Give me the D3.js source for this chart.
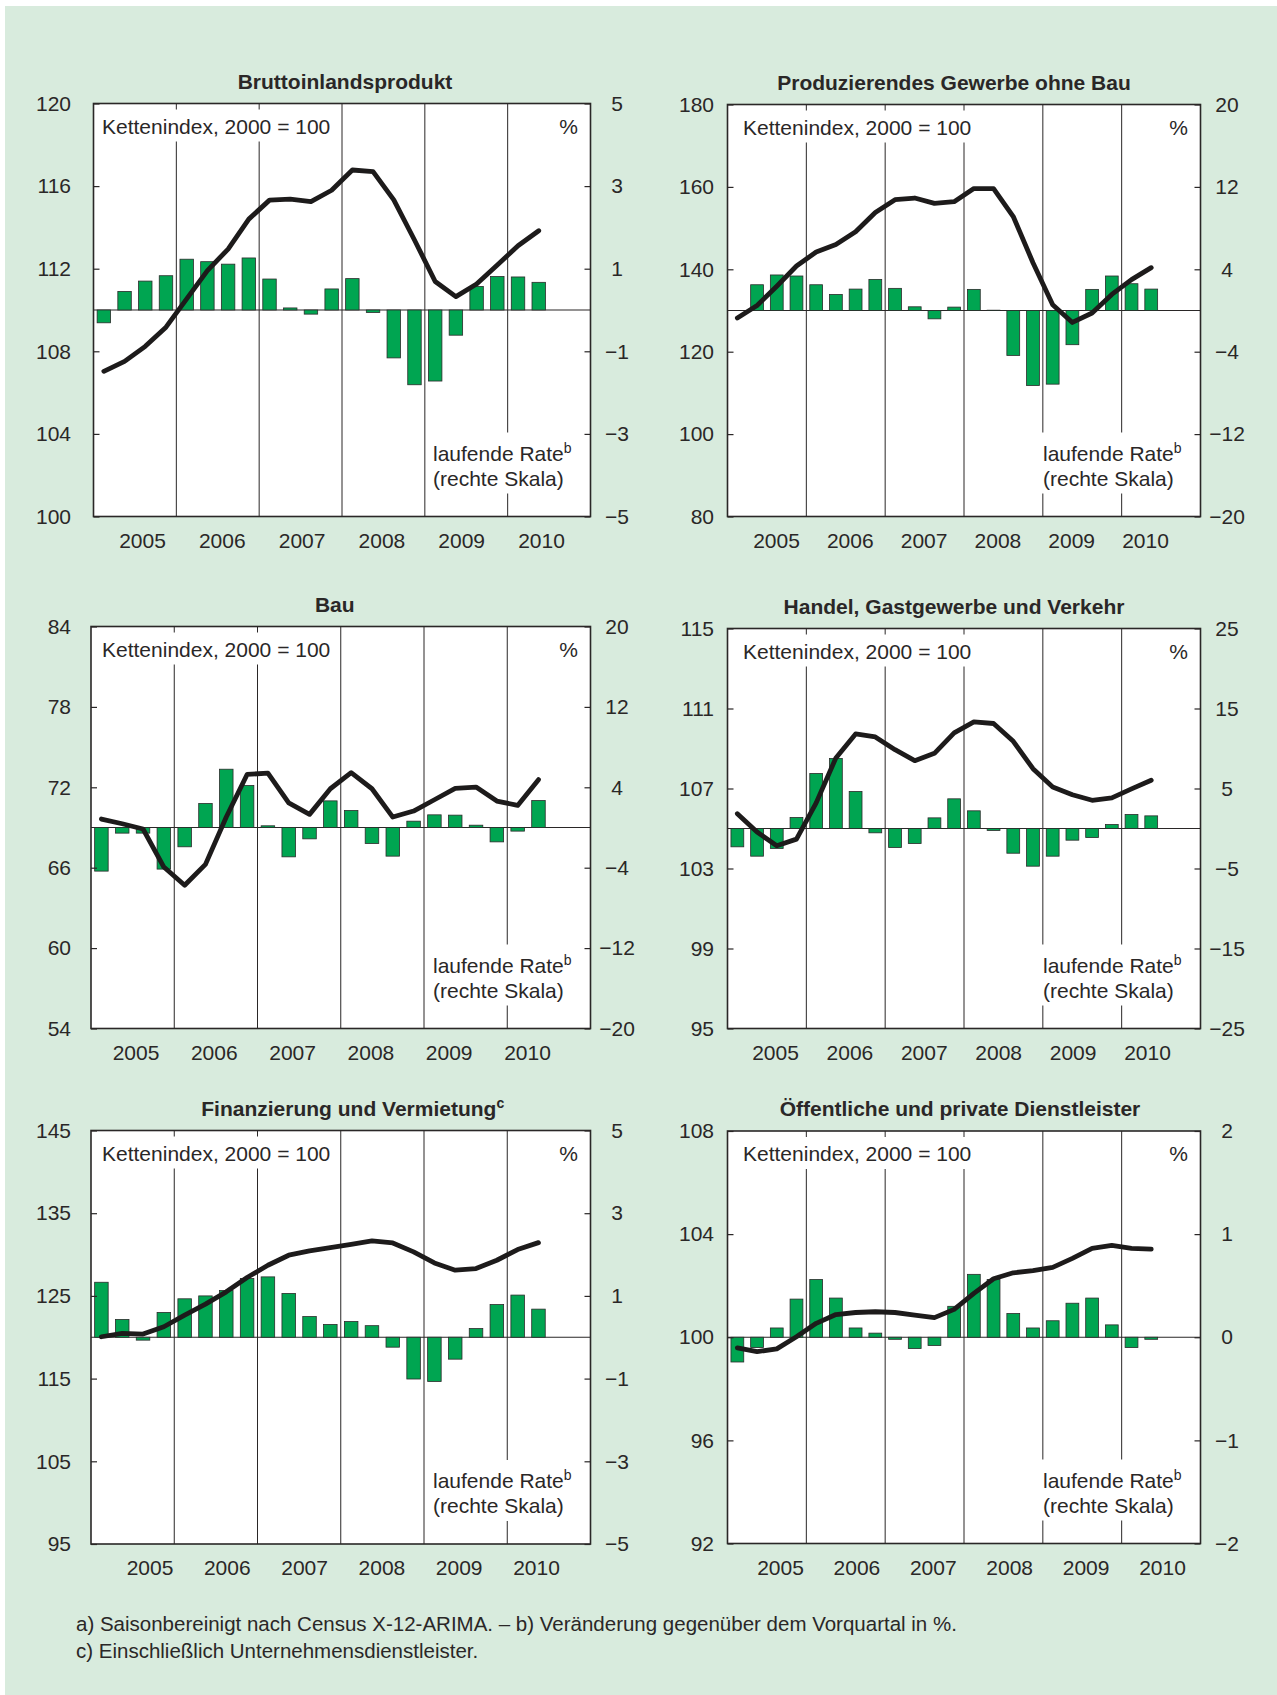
<!DOCTYPE html>
<html>
<head>
<meta charset="utf-8">
<script src="https://cdn.jsdelivr.net/npm/d3@7"></script>
<style>
  body { margin: 0; background: #fff; }
  svg text { font-family: "Liberation Sans", Arial, sans-serif; fill: #2a2727; }
</style>
</head>
<body>
<svg id="chart" width="1277" height="1695"></svg>
<script>
// Kategorien
const years = ["2005", "2006", "2007", "2008", "2009", "2010"];
const quarters = years.flatMap(y => ["Q1", "Q2", "Q3", "Q4"].map(q => y + q));

const titles = ["Bruttoinlandsprodukt", "Produzierendes Gewerbe ohne Bau", "Bau",
  "Handel, Gastgewerbe und Verkehr", "Finanzierung und Vermietung", "Öffentliche und private Dienstleister"];
const titleSup = ["", "", "", "", "c", ""];

// Achsen (links: Kettenindex, rechts: laufende Rate in %)
const leftTicks = [
  [100, 104, 108, 112, 116, 120],
  [80, 100, 120, 140, 160, 180],
  [54, 60, 66, 72, 78, 84],
  [95, 99, 103, 107, 111, 115],
  [95, 105, 115, 125, 135, 145],
  [92, 96, 100, 104, 108]
];
const rightTicks = [
  [-5, -3, -1, 1, 3, 5],
  [-20, -12, -4, 4, 12, 20],
  [-20, -12, -4, 4, 12, 20],
  [-25, -15, -5, 5, 15, 25],
  [-5, -3, -1, 1, 3, 5],
  [-2, -1, 0, 1, 2]
];

// Reihen, 2005 Q1 bis 2010 Q2
const bipIndex = [107.03, 107.51, 108.24, 109.17, 110.54, 111.91, 112.95, 114.40, 115.32, 115.37, 115.25, 115.80, 116.78, 116.70, 115.33, 113.39, 111.38, 110.65, 111.26, 112.18, 113.11, 113.84];
const bipRate = [-0.31, 0.45, 0.70, 0.83, 1.23, 1.17, 1.11, 1.26, 0.75, 0.05, -0.10, 0.51, 0.76, -0.06, -1.16, -1.81, -1.72, -0.61, 0.57, 0.81, 0.80, 0.67];

const prodIndex = [128.2, 131.2, 135.9, 140.8, 144.2, 146.0, 149.1, 153.8, 156.9, 157.3, 156.0, 156.4, 159.6, 159.6, 152.8, 141.6, 131.4, 127.1, 129.4, 133.9, 137.5, 140.4];
const prodRate = [0.0, 2.50, 3.45, 3.35, 2.50, 1.56, 2.08, 3.02, 2.15, 0.36, -0.81, 0.33, 2.05, 0.03, -4.36, -7.28, -7.15, -3.32, 2.05, 3.35, 2.60, 2.08];

const bauIndex = [69.63, 69.28, 68.89, 66.05, 64.69, 66.25, 69.78, 72.96, 73.06, 70.83, 69.98, 71.89, 73.09, 71.89, 69.78, 70.23, 71.07, 71.92, 72.02, 70.97, 70.65, 72.57];
const bauRate = [-4.34, -0.56, -0.56, -4.14, -1.92, 2.39, 5.80, 4.18, 0.17, -2.92, -1.13, 2.65, 1.69, -1.59, -2.85, 0.63, 1.26, 1.23, 0.23, -1.43, -0.36, 2.68];

const handelIndex = [105.74, 104.82, 104.14, 104.47, 106.28, 108.53, 109.73, 109.58, 108.94, 108.39, 108.76, 109.78, 110.33, 110.25, 109.36, 107.99, 107.08, 106.69, 106.41, 106.53, 106.98, 107.41];
const handelRate = [-2.29, -3.46, -2.50, 1.38, 6.88, 8.76, 4.63, -0.54, -2.38, -1.88, 1.33, 3.71, 2.21, -0.25, -3.09, -4.71, -3.46, -1.46, -1.13, 0.50, 1.75, 1.58];

const finanzIndex = [120.06, 120.46, 120.38, 121.27, 122.68, 124.00, 125.49, 127.22, 128.71, 129.92, 130.44, 130.84, 131.24, 131.65, 131.40, 130.32, 128.99, 128.11, 128.31, 129.31, 130.60, 131.44];
const finanzRate = [1.33, 0.43, -0.07, 0.60, 0.93, 1.00, 1.13, 1.42, 1.46, 1.06, 0.50, 0.31, 0.38, 0.28, -0.24, -1.01, -1.07, -0.53, 0.21, 0.79, 1.02, 0.68];

const dienstIndex = [99.59, 99.44, 99.55, 100.02, 100.54, 100.88, 100.96, 100.99, 100.96, 100.86, 100.76, 101.08, 101.70, 102.27, 102.50, 102.58, 102.71, 103.06, 103.45, 103.56, 103.45, 103.42];
const dienstRate = [-0.24, -0.10, 0.09, 0.37, 0.56, 0.38, 0.09, 0.04, -0.02, -0.11, -0.08, 0.30, 0.61, 0.56, 0.23, 0.09, 0.16, 0.33, 0.38, 0.12, -0.10, -0.02];

const indexSeries = [bipIndex, prodIndex, bauIndex, handelIndex, finanzIndex, dienstIndex];
const rateSeries = [bipRate, prodRate, bauRate, handelRate, finanzRate, dienstRate];

const footnotes = [
  "a) Saisonbereinigt nach Census X-12-ARIMA. – b) Veränderung gegenüber dem Vorquartal in %.",
  "c) Einschließlich Unternehmensdienstleister."
];

// Lage der sechs Felder
const layout = [
  { x0: 93.5, x1: 590.5, y0: 103.5, y1: 516.5, col: 0, tx: 3, la: 49, lb: 49 },
  { x0: 727.5, x1: 1200.5, y0: 104.5, y1: 516.5, col: 1, tx: -10, la: 49, lb: 55 },
  { x0: 91, x1: 590.5, y0: 626.5, y1: 1028.5, col: 0, tx: -6, la: 45, lb: 63 },
  { x0: 727.5, x1: 1200.5, y0: 628.5, y1: 1028.5, col: 1, tx: -10, la: 48, lb: 53 },
  { x0: 91, x1: 590.5, y0: 1130.5, y1: 1544, col: 0, tx: 12, la: 59, lb: 54 },
  { x0: 727.5, x1: 1200.5, y0: 1131, y1: 1543.5, col: 1, tx: -4, la: 53, lb: 38 }
];
const leftLabelX = [71, 714];
const noteX = [102, 743];

const ink = "#2a2727";
const svg = d3.select("#chart");

svg.append("rect").attr("x", 5).attr("y", 6).attr("width", 1272).attr("height", 1689).attr("fill", "#d8ebdd");

layout.forEach((p, i) => {
  const g = svg.append("g");
  const w = p.x1 - p.x0;

  const yL = d3.scaleLinear().domain(d3.extent(leftTicks[i])).range([p.y1, p.y0]);
  const yR = d3.scaleLinear().domain(d3.extent(rightTicks[i])).range([p.y1, p.y0]);
  const xQ = d3.scaleBand().domain(quarters).range([p.x0, p.x1]).paddingInner(0.35).paddingOuter(0.175);
  const xYear = d3.scaleLinear().domain([2005, 2011]).range([p.x0, p.x1]);
  const xLabel = d3.scalePoint().domain(years).range([p.x0 + p.la, p.x1 - p.lb]);

  g.append("rect").attr("x", p.x0).attr("y", p.y0).attr("width", w).attr("height", p.y1 - p.y0).attr("fill", "#fff");

  // Jahrestrenner
  g.selectAll(".sep").data(d3.range(2006, 2011)).join("line")
    .attr("x1", d => xYear(d)).attr("x2", d => xYear(d))
    .attr("y1", p.y0).attr("y2", p.y1)
    .attr("stroke", ink).attr("stroke-width", 1);

  // Textfelder oben und unten
  const top = g.append("text").attr("x", noteX[p.col]).attr("y", p.y0 + 30)
    .attr("font-size", 21).text("Kettenindex, 2000 = 100");
  const tb = top.node().getBBox();
  g.insert("rect", "text").attr("x", p.x0 + 1).attr("y", p.y0 + 6)
    .attr("width", tb.x + tb.width + 5 - p.x0).attr("height", 32).attr("fill", "#fff");

  g.append("text").attr("x", p.x1 - 12.5).attr("y", p.y0 + 30)
    .attr("font-size", 21).attr("text-anchor", "end").text("%");

  const rate = g.append("text").attr("x", p.x1 - 157.5).attr("y", p.y1 - 56).attr("font-size", 21);
  rate.append("tspan").text("laufende Rate");
  rate.append("tspan").attr("dy", -8).attr("font-size", 14).text("b");
  const skala = g.append("text").attr("x", p.x1 - 157.5).attr("y", p.y1 - 31).attr("font-size", 21).text("(rechte Skala)");
  const rb = rate.node().getBBox();
  g.insert("rect", "text").attr("x", rb.x - 4).attr("y", p.y1 - 84)
    .attr("width", rb.width + 10).attr("height", 61).attr("fill", "#fff");
  rate.raise(); skala.raise();

  // Nulllinie
  g.append("line").attr("x1", p.x0).attr("x2", p.x1)
    .attr("y1", yR(0)).attr("y2", yR(0)).attr("stroke", ink).attr("stroke-width", 1.2);

  // Balken (laufende Rate, rechte Skala)
  g.selectAll(".bar").data(rateSeries[i]).join("rect")
    .attr("x", (d, k) => xQ(quarters[k]))
    .attr("width", xQ.bandwidth())
    .attr("y", d => Math.min(yR(d), yR(0)))
    .attr("height", d => Math.abs(yR(d) - yR(0)))
    .attr("fill", "#00a551").attr("stroke", "#2b2b2b").attr("stroke-width", 0.8);

  // Linie (Kettenindex, linke Skala)
  const line = d3.line()
    .x((d, k) => xQ(quarters[k]) + xQ.bandwidth() / 2)
    .y(d => yL(d));
  g.append("path").datum(indexSeries[i]).attr("d", line)
    .attr("fill", "none").attr("stroke", "#1d1b1b").attr("stroke-width", 4.8)
    .attr("stroke-linejoin", "round").attr("stroke-linecap", "round");

  // Rahmen
  g.append("rect").attr("x", p.x0).attr("y", p.y0).attr("width", w).attr("height", p.y1 - p.y0)
    .attr("fill", "none").attr("stroke", ink).attr("stroke-width", 1.6);

  // Achsen
  const axL = g.append("g").attr("transform", `translate(${p.x0},0)`)
    .call(d3.axisLeft(yL).tickValues(leftTicks[i]).tickFormat(d3.format("d"))
      .tickSize(-6).tickPadding(p.x0 - leftLabelX[p.col]));
  const axR = g.append("g").attr("transform", `translate(${p.x1},0)`)
    .call(d3.axisRight(yR).tickValues(rightTicks[i]).tickFormat(d3.format("d"))
      .tickSize(-6).tickPadding(26.5));
  [axL, axR].forEach(ax => {
    ax.select(".domain").remove();
    ax.selectAll("line").attr("stroke", ink).attr("stroke-width", 1.2);
    ax.selectAll("text").attr("font-size", 21).attr("font-family", null).attr("fill", ink);
  });
  axR.selectAll("text").attr("text-anchor", "middle");

  // Jahre
  g.selectAll(".yr").data(years).join("text")
    .attr("x", d => xLabel(d)).attr("y", p.y1 + 31)
    .attr("text-anchor", "middle").attr("font-size", 21).text(d => d);

  // Titel
  const t = g.append("text").attr("x", (p.x0 + p.x1) / 2 + p.tx).attr("y", p.y0 - 15)
    .attr("text-anchor", "middle").attr("font-size", 21).attr("font-weight", "bold").text(titles[i]);
  if (titleSup[i]) t.append("tspan").attr("dy", -8).attr("font-size", 14).text(titleSup[i]);
});

svg.selectAll(".fn").data(footnotes).join("text")
  .attr("x", 76).attr("y", (d, k) => 1631 + k * 27)
  .attr("font-size", 20.5).text(d => d);
</script>
</body>
</html>
